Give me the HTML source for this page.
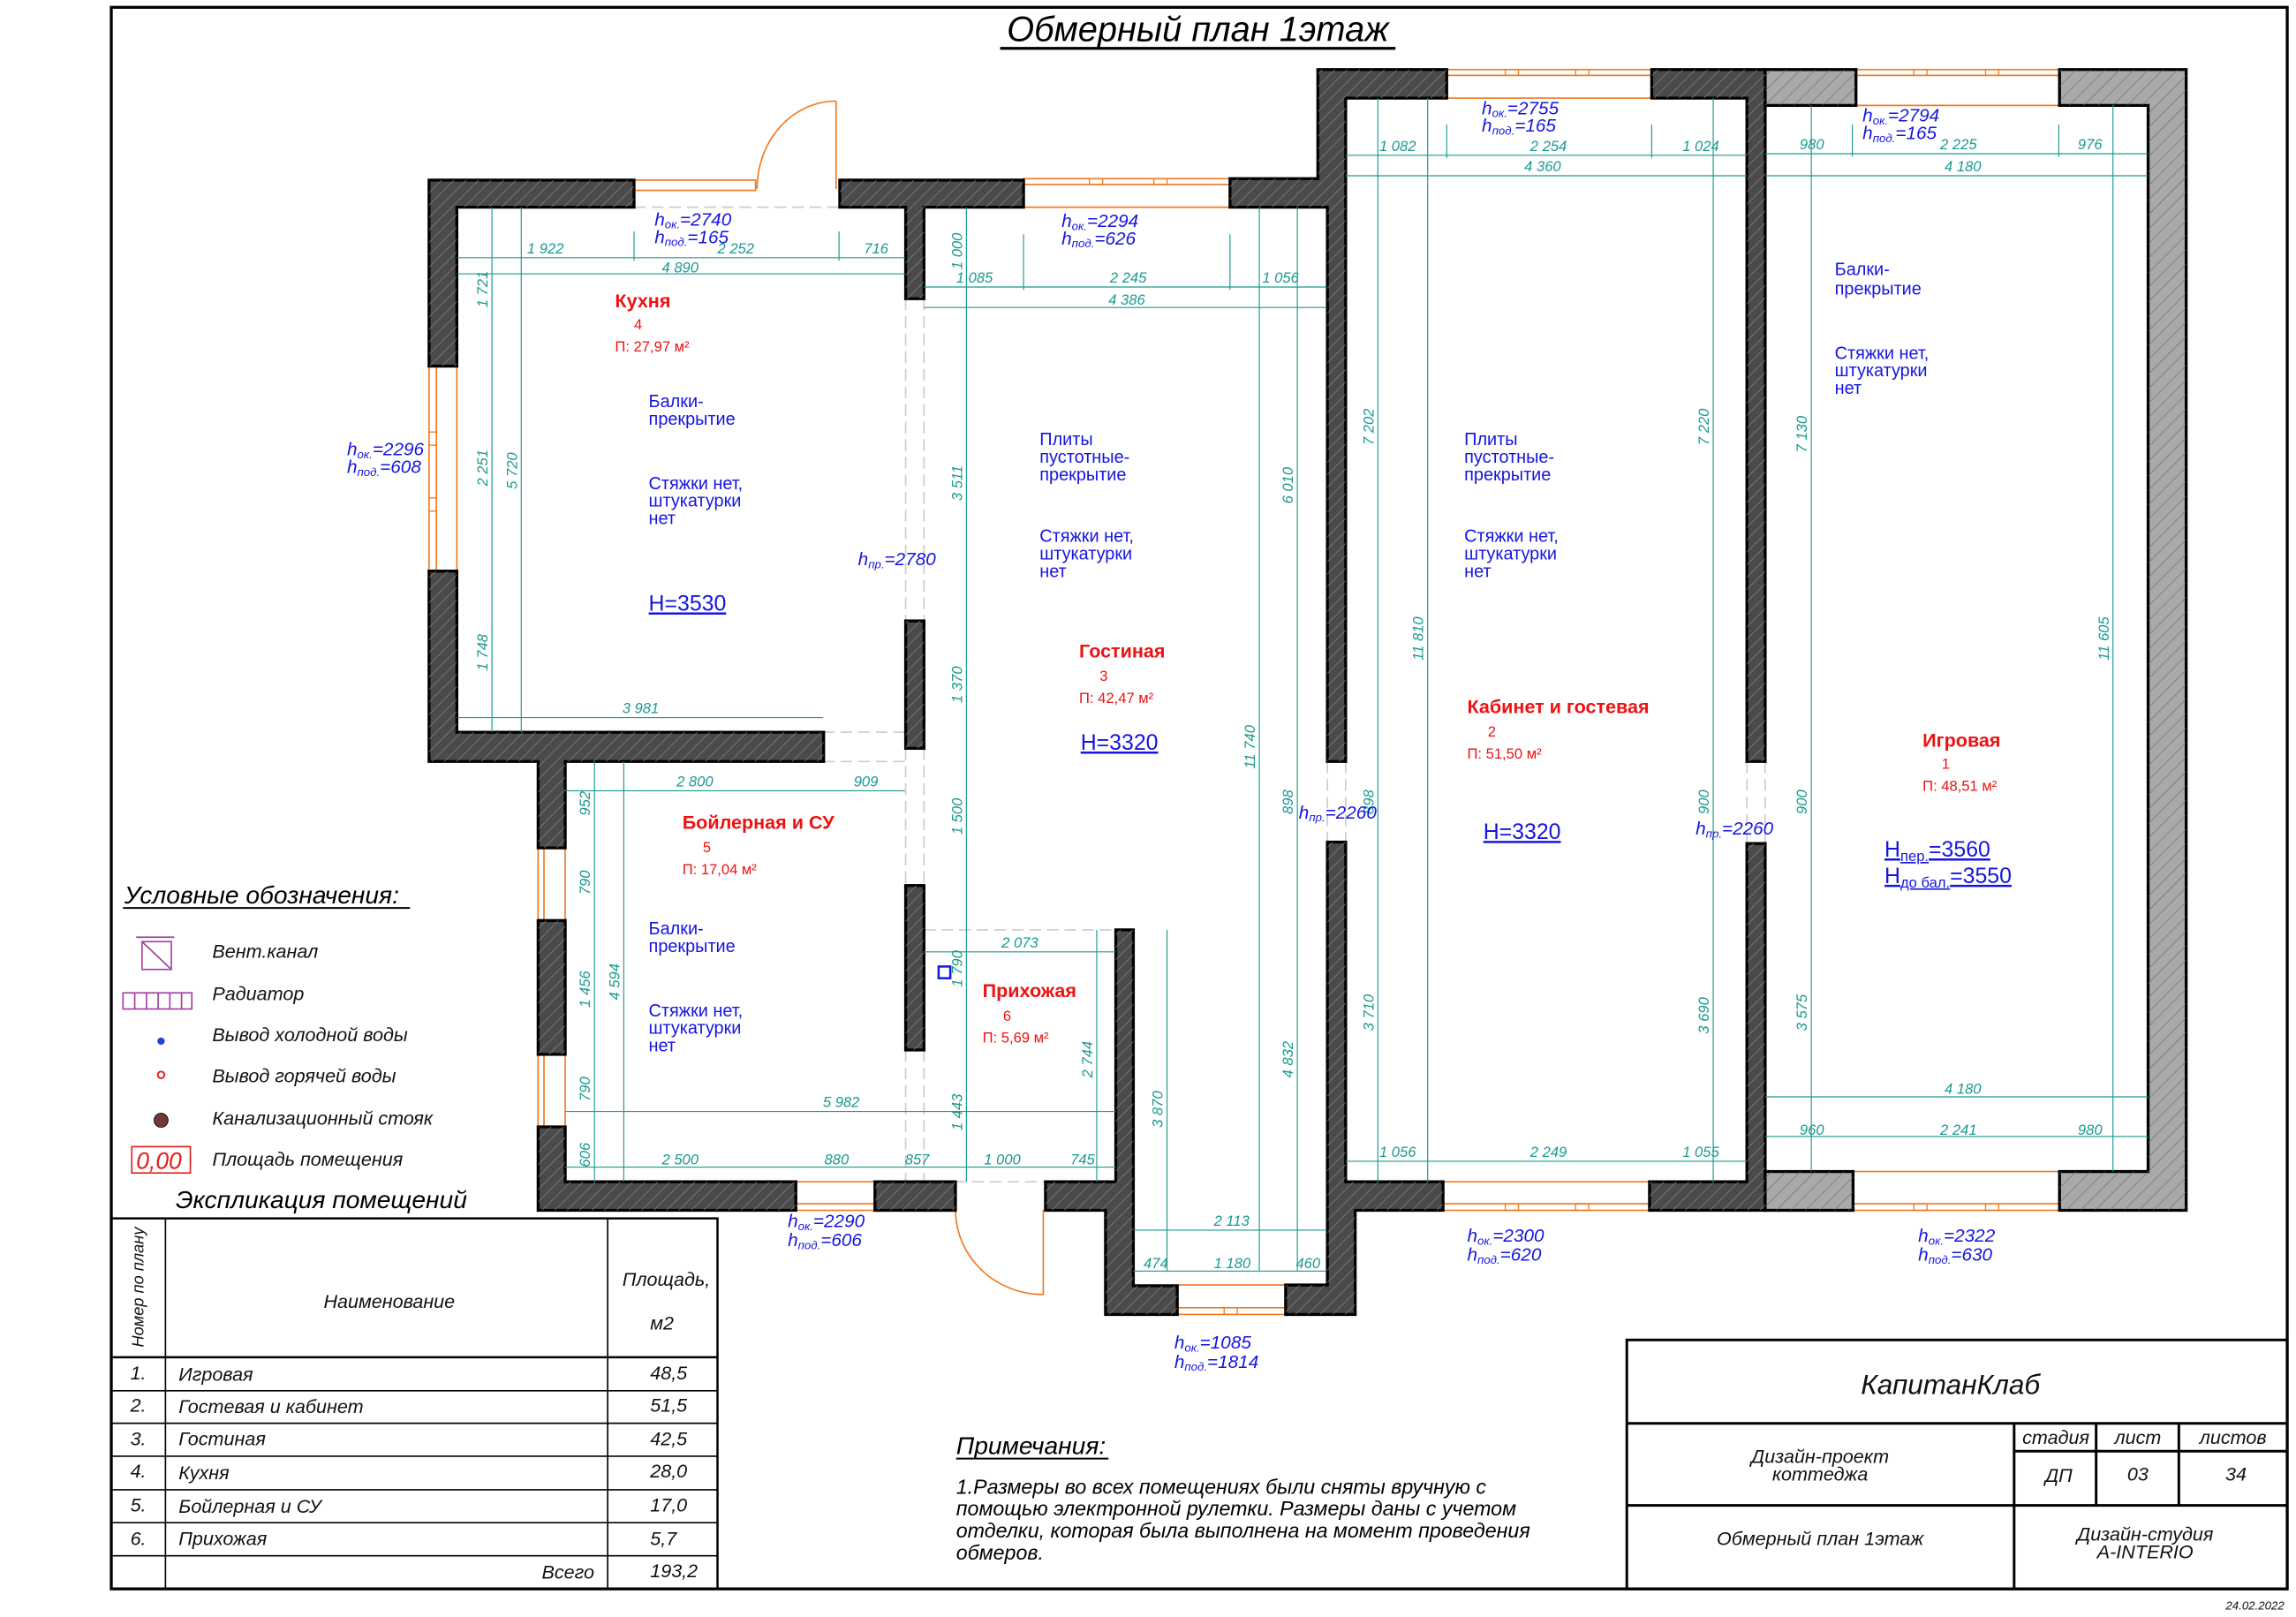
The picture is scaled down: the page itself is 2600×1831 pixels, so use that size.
<!DOCTYPE html>
<html><head><meta charset="utf-8"><style>
html,body{margin:0;padding:0;background:#fff;}
svg{display:block;}
text{font-family:"Liberation Sans",sans-serif;}
.d{fill:#1a9a8f;font-size:10px;font-style:italic;}
.b{fill:#1515e0;font-size:12px;}
.h{fill:#1515e0;font-size:12.5px;font-style:italic;}
.r{fill:#ee1111;font-size:13px;font-weight:bold;}
.rs{fill:#ee1111;font-size:10px;}
.k{fill:#111;font-size:13px;font-style:italic;}
.w{fill:#4a4a4a;stroke:#000;stroke-width:2;}
.g{fill:#a9a9a9;stroke:#000;stroke-width:2;}
.dl{stroke:#1a9a8f;stroke-width:0.7;fill:none;}
.win{stroke:#f07a20;stroke-width:1;fill:none;}
.ds{stroke:#ccc;stroke-width:1;stroke-dasharray:8 4;fill:none;}
</style></head><body>
<svg width="2600" height="1831" viewBox="0 0 1568 1104.2" preserveAspectRatio="none" xmlns="http://www.w3.org/2000/svg">
<defs>
<pattern id="ht" width="6" height="6" patternUnits="userSpaceOnUse" patternTransform="rotate(45)">
<line x1="0" y1="0" x2="0" y2="6" stroke="#8a8a8a" stroke-width="0.8"/></pattern>
<pattern id="ht2" width="7" height="7" patternUnits="userSpaceOnUse" patternTransform="rotate(45)">
<line x1="0" y1="0" x2="0" y2="7" stroke="#666" stroke-width="0.7"/></pattern>
</defs>
<rect x="0" y="0" width="1568" height="1104.2" fill="#fff"/>
<rect x="76" y="5" width="1486" height="1080" fill="none" stroke="#000" stroke-width="2"/>
<text x="818" y="28" text-anchor="middle" style="font-size:24px;font-style:italic;fill:#000">Обмерный план 1этаж</text>
<line x1="683" y1="33" x2="953" y2="33" stroke="#000" stroke-width="2"/>

<g class="ds">
<line x1="433" y1="141.5" x2="618" y2="141.5"/>
<line x1="618.5" y1="204" x2="618.5" y2="424"/><line x1="631" y1="204" x2="631" y2="424"/>
<line x1="618.5" y1="511" x2="618.5" y2="604"/><line x1="631" y1="511" x2="631" y2="604"/>
<line x1="618.5" y1="717" x2="618.5" y2="807"/><line x1="631" y1="717" x2="631" y2="807"/>
<line x1="562" y1="500" x2="618" y2="500"/><line x1="562" y1="520" x2="618" y2="520"/>
<line x1="631" y1="635" x2="762" y2="635"/>
<line x1="652" y1="807" x2="714" y2="807"/>
<line x1="906.5" y1="520" x2="906.5" y2="575"/><line x1="919" y1="520" x2="919" y2="575"/>
<line x1="1193" y1="520" x2="1193" y2="576"/><line x1="1205.5" y1="520" x2="1205.5" y2="576"/>
</g>

<g class="win">
<rect x="433" y="123" width="83" height="7"/>
<rect x="293" y="250" width="5" height="140"/><line x1="312" y1="250" x2="312" y2="390"/>
<rect x="699" y="122" width="141" height="4"/><line x1="699" y1="141.5" x2="840" y2="141.5"/>
<rect x="988" y="47.5" width="140" height="4"/><line x1="988" y1="67" x2="1128" y2="67"/>
<rect x="1267.5" y="47.5" width="139" height="4"/><line x1="1267.5" y1="72" x2="1406.5" y2="72"/>
<rect x="367.5" y="579" width="4" height="49.6"/><line x1="386" y1="579" x2="386" y2="628.6"/>
<rect x="367.5" y="720" width="4" height="49.5"/><line x1="386" y1="720" x2="386" y2="769.5"/>
<rect x="543.5" y="822" width="54" height="4.5"/><line x1="543.5" y1="807" x2="597.5" y2="807"/>
<rect x="804" y="893" width="74" height="4.6"/><line x1="804" y1="877.5" x2="878" y2="877.5"/>
<rect x="985.5" y="822" width="141" height="4.5"/><line x1="985.5" y1="807" x2="1126.5" y2="807"/>
<rect x="1265.5" y="822" width="141" height="4.5"/><line x1="1265.5" y1="800" x2="1406.5" y2="800"/>
<line x1="571" y1="69" x2="571" y2="129"/><path d="M517,129 A54,60 0 0 1 571,69"/>
<line x1="712.5" y1="826" x2="712.5" y2="884"/><path d="M652.5,826 A60,58 0 0 0 712.5,884"/>
</g>
<g fill="none" stroke="#f07a20" stroke-width="0.8">
<rect x="744" y="122" width="9" height="4"/><rect x="788" y="122" width="9" height="4"/>
<rect x="1028" y="47.5" width="9" height="4"/><rect x="1076" y="47.5" width="9" height="4"/>
<rect x="1307" y="47.5" width="9" height="4"/><rect x="1356" y="47.5" width="9" height="4"/>
<rect x="1028" y="822" width="9" height="4.5"/><rect x="1076" y="822" width="9" height="4.5"/>
<rect x="1307" y="822" width="9" height="4.5"/><rect x="1356" y="822" width="9" height="4.5"/>
<rect x="836" y="893" width="9" height="4.6"/>
<rect x="293" y="295" width="5" height="9"/><rect x="293" y="340" width="5" height="9"/>
</g>

<g>
<polygon class="w" points="293,123 433,123 433,141.5 312,141.5 312,250 293,250"/>
<polygon class="w" points="293,390 312,390 312,500 562.5,500 562.5,520 386,520 386,579 367.5,579 367.5,520 293,520"/>
<polygon class="w" points="573.5,123 699,123 699,141.5 631,141.5 631,204 618.5,204 618.5,141.5 573.5,141.5"/>
<polygon class="w" points="840,122 900,122 900,47.5 988,47.5 988,67 919,67 919,520 906.5,520 906.5,141.5 840,141.5"/>
<rect class="w" x="618.5" y="424" width="12.5" height="87"/>
<rect class="w" x="618.5" y="604.7" width="12.5" height="112.3"/>
<rect class="w" x="367.5" y="628.6" width="18.5" height="91.4"/>
<polygon class="w" points="367.5,769.5 386,769.5 386,807 543.5,807 543.5,826.5 367.5,826.5"/>
<rect class="w" x="597.5" y="807" width="55" height="19.5"/>
<polygon class="w" points="714,807 762,807 762,635 774,635 774,878 804,878 804,897.6 755,897.6 755,826.5 714,826.5"/>
<polygon class="w" points="906.5,575 919,575 919,807 985.5,807 985.5,826.5 925.5,826.5 925.5,897.6 878,897.6 878,877.5 906.5,877.5"/>
<polygon class="w" points="1128,47.5 1205.5,47.5 1205.5,520 1193,520 1193,67 1128,67"/>
<polygon class="w" points="1193,576 1205.5,576 1205.5,826.5 1126.5,826.5 1126.5,807 1193,807"/>
<rect class="g" x="1205.5" y="47.5" width="62" height="24.5"/>
<polygon class="g" points="1406.5,47.5 1493,47.5 1493,826.5 1406.5,826.5 1406.5,800 1467,800 1467,72 1406.5,72"/>
<rect class="g" x="1205.5" y="800" width="60" height="26.5"/>
</g>
<g fill="url(#ht)" stroke="none">
<polygon points="293,123 433,123 433,141.5 312,141.5 312,250 293,250"/>
<polygon points="293,390 312,390 312,500 562.5,500 562.5,520 386,520 386,579 367.5,579 367.5,520 293,520"/>
<polygon points="573.5,123 699,123 699,141.5 631,141.5 631,204 618.5,204 618.5,141.5 573.5,141.5"/>
<polygon points="840,122 900,122 900,47.5 988,47.5 988,67 919,67 919,520 906.5,520 906.5,141.5 840,141.5"/>
<rect x="618.5" y="424" width="12.5" height="87"/><rect x="618.5" y="604.7" width="12.5" height="112.3"/>
<rect x="367.5" y="628.6" width="18.5" height="91.4"/>
<polygon points="367.5,769.5 386,769.5 386,807 543.5,807 543.5,826.5 367.5,826.5"/>
<rect x="597.5" y="807" width="55" height="19.5"/>
<polygon points="714,807 762,807 762,635 774,635 774,878 804,878 804,897.6 755,897.6 755,826.5 714,826.5"/>
<polygon points="906.5,575 919,575 919,807 985.5,807 985.5,826.5 925.5,826.5 925.5,897.6 878,897.6 878,877.5 906.5,877.5"/>
<polygon points="1128,47.5 1205.5,47.5 1205.5,520 1193,520 1193,67 1128,67"/>
<polygon points="1193,576 1205.5,576 1205.5,826.5 1126.5,826.5 1126.5,807 1193,807"/>
</g>
<g fill="url(#ht2)" stroke="none">
<rect x="1205.5" y="47.5" width="62" height="24.5"/>
<polygon points="1406.5,47.5 1493,47.5 1493,826.5 1406.5,826.5 1406.5,800 1467,800 1467,72 1406.5,72"/>
<rect x="1205.5" y="800" width="60" height="26.5"/>
</g>

<g class="dl">
<line x1="312" y1="176" x2="618" y2="176"/><line x1="312" y1="187" x2="618" y2="187"/>
<line x1="433" y1="158" x2="433" y2="178"/><line x1="573" y1="158" x2="573" y2="178"/>
<line x1="336" y1="141.5" x2="336" y2="500"/><line x1="356" y1="141.5" x2="356" y2="500"/>
<line x1="312" y1="490" x2="562" y2="490"/>
<line x1="660" y1="141.5" x2="660" y2="807"/>
<line x1="631" y1="196" x2="906" y2="196"/><line x1="631" y1="210" x2="906" y2="210"/>
<line x1="699" y1="160" x2="699" y2="198"/><line x1="840" y1="160" x2="840" y2="198"/>
<line x1="860" y1="141.5" x2="860" y2="868"/><line x1="886" y1="141.5" x2="886" y2="868"/>
<line x1="797" y1="635" x2="797" y2="868"/>
<line x1="386" y1="540" x2="618" y2="540"/>
<line x1="406" y1="520" x2="406" y2="807"/><line x1="426" y1="520" x2="426" y2="807"/>
<line x1="386" y1="759" x2="762" y2="759"/><line x1="386" y1="797" x2="762" y2="797"/>
<line x1="631" y1="650" x2="762" y2="650"/><line x1="749" y1="635" x2="749" y2="807"/>
<line x1="774" y1="840" x2="906" y2="840"/><line x1="774" y1="868" x2="906" y2="868"/>
<line x1="919" y1="106" x2="1193" y2="106"/><line x1="919" y1="120" x2="1193" y2="120"/>
<line x1="988" y1="85" x2="988" y2="108"/><line x1="1128" y1="85" x2="1128" y2="108"/>
<line x1="941" y1="67" x2="941" y2="807"/><line x1="975" y1="67" x2="975" y2="807"/><line x1="1170" y1="67" x2="1170" y2="807"/>
<line x1="919" y1="793" x2="1193" y2="793"/>
<line x1="1205.5" y1="105" x2="1467" y2="105"/><line x1="1205.5" y1="120" x2="1467" y2="120"/>
<line x1="1265" y1="85" x2="1265" y2="107"/><line x1="1406" y1="85" x2="1406" y2="107"/>
<line x1="1237" y1="72" x2="1237" y2="800"/><line x1="1443" y1="72" x2="1443" y2="800"/>
<line x1="1205.5" y1="749" x2="1467" y2="749"/><line x1="1205.5" y1="776" x2="1467" y2="776"/>
</g>

<g class="d">
<text x="360" y="173">1 922</text><text x="490" y="173">2 252</text><text x="590" y="173">716</text>
<text x="452" y="186">4 890</text><text x="425" y="487">3 981</text>
<text x="653" y="193">1 085</text><text x="758" y="193">2 245</text><text x="862" y="193">1 056</text>
<text x="757" y="208">4 386</text>
<text x="462" y="537">2 800</text><text x="583" y="537">909</text>
<text x="562" y="756">5 982</text>
<text x="452" y="795">2 500</text><text x="563" y="795">880</text><text x="618" y="795">857</text><text x="672" y="795">1 000</text><text x="731" y="795">745</text>
<text x="684" y="647">2 073</text>
<text x="829" y="837">2 113</text><text x="781" y="866">474</text><text x="829" y="866">1 180</text><text x="885" y="866">460</text>
<text x="942" y="103">1 082</text><text x="1045" y="103">2 254</text><text x="1149" y="103">1 024</text>
<text x="1041" y="117">4 360</text>
<text x="942" y="790">1 056</text><text x="1045" y="790">2 249</text><text x="1149" y="790">1 055</text>
<text x="1229" y="102">980</text><text x="1325" y="102">2 225</text><text x="1419" y="102">976</text>
<text x="1328" y="117">4 180</text><text x="1328" y="747">4 180</text>
<text x="1229" y="775">960</text><text x="1325" y="775">2 241</text><text x="1419" y="775">980</text>
</g>
<g class="d">
<text transform="translate(333,210) rotate(-90)">1 721</text>
<text transform="translate(333,332) rotate(-90)">2 251</text>
<text transform="translate(333,458) rotate(-90)">1 748</text>
<text transform="translate(353,334) rotate(-90)">5 720</text>
<text transform="translate(657,184) rotate(-90)">1 000</text>
<text transform="translate(657,342) rotate(-90)">3 511</text>
<text transform="translate(657,480) rotate(-90)">1 370</text>
<text transform="translate(657,570) rotate(-90)">1 500</text>
<text transform="translate(657,674) rotate(-90)">1 790</text>
<text transform="translate(657,772) rotate(-90)">1 443</text>
<text transform="translate(883,344) rotate(-90)">6 010</text>
<text transform="translate(857,525) rotate(-90)">11 740</text>
<text transform="translate(883,556) rotate(-90)">898</text>
<text transform="translate(883,736) rotate(-90)">4 832</text>
<text transform="translate(794,770) rotate(-90)">3 870</text>
<text transform="translate(746,736) rotate(-90)">2 744</text>
<text transform="translate(403,557) rotate(-90)">952</text>
<text transform="translate(403,611) rotate(-90)">790</text>
<text transform="translate(403,688) rotate(-90)">1 456</text>
<text transform="translate(403,752) rotate(-90)">790</text>
<text transform="translate(403,797) rotate(-90)">606</text>
<text transform="translate(423,683) rotate(-90)">4 594</text>
<text transform="translate(938,304) rotate(-90)">7 202</text>
<text transform="translate(938,556) rotate(-90)">898</text>
<text transform="translate(938,704) rotate(-90)">3 710</text>
<text transform="translate(972,451) rotate(-90)">11 810</text>
<text transform="translate(1167,304) rotate(-90)">7 220</text>
<text transform="translate(1167,556) rotate(-90)">900</text>
<text transform="translate(1167,706) rotate(-90)">3 690</text>
<text transform="translate(1234,309) rotate(-90)">7 130</text>
<text transform="translate(1234,556) rotate(-90)">900</text>
<text transform="translate(1234,704) rotate(-90)">3 575</text>
<text transform="translate(1440,451) rotate(-90)">11 605</text>
</g>

<g class="h">
<text x="447" y="154">h<tspan font-size="8" dy="2">ок.</tspan><tspan dy="-2">=2740</tspan></text>
<text x="447" y="166">h<tspan font-size="8" dy="2">под.</tspan><tspan dy="-2">=165</tspan></text>
<text x="725" y="155">h<tspan font-size="8" dy="2">ок.</tspan><tspan dy="-2">=2294</tspan></text>
<text x="725" y="167">h<tspan font-size="8" dy="2">под.</tspan><tspan dy="-2">=626</tspan></text>
<text x="237" y="311">h<tspan font-size="8" dy="2">ок.</tspan><tspan dy="-2">=2296</tspan></text>
<text x="237" y="323">h<tspan font-size="8" dy="2">под.</tspan><tspan dy="-2">=608</tspan></text>
<text x="586" y="386">h<tspan font-size="8" dy="2">пр.</tspan><tspan dy="-2">=2780</tspan></text>
<text x="887" y="559">h<tspan font-size="8" dy="2">пр.</tspan><tspan dy="-2">=2260</tspan></text>
<text x="1158" y="570">h<tspan font-size="8" dy="2">пр.</tspan><tspan dy="-2">=2260</tspan></text>
<text x="1012" y="78">h<tspan font-size="8" dy="2">ок.</tspan><tspan dy="-2">=2755</tspan></text>
<text x="1012" y="90">h<tspan font-size="8" dy="2">под.</tspan><tspan dy="-2">=165</tspan></text>
<text x="1272" y="83">h<tspan font-size="8" dy="2">ок.</tspan><tspan dy="-2">=2794</tspan></text>
<text x="1272" y="95">h<tspan font-size="8" dy="2">под.</tspan><tspan dy="-2">=165</tspan></text>
<text x="538" y="838">h<tspan font-size="8" dy="2">ок.</tspan><tspan dy="-2">=2290</tspan></text>
<text x="538" y="851">h<tspan font-size="8" dy="2">под.</tspan><tspan dy="-2">=606</tspan></text>
<text x="802" y="921">h<tspan font-size="8" dy="2">ок.</tspan><tspan dy="-2">=1085</tspan></text>
<text x="802" y="934">h<tspan font-size="8" dy="2">под.</tspan><tspan dy="-2">=1814</tspan></text>
<text x="1002" y="848">h<tspan font-size="8" dy="2">ок.</tspan><tspan dy="-2">=2300</tspan></text>
<text x="1002" y="861">h<tspan font-size="8" dy="2">под.</tspan><tspan dy="-2">=620</tspan></text>
<text x="1310" y="848">h<tspan font-size="8" dy="2">ок.</tspan><tspan dy="-2">=2322</tspan></text>
<text x="1310" y="861">h<tspan font-size="8" dy="2">под.</tspan><tspan dy="-2">=630</tspan></text>
</g>

<g class="b">
<text x="443" y="278">Балки-</text><text x="443" y="290">прекрытие</text>
<text x="443" y="334">Стяжки нет,</text><text x="443" y="346">штукатурки</text><text x="443" y="358">нет</text>
<text x="443" y="638">Балки-</text><text x="443" y="650">прекрытие</text>
<text x="443" y="694">Стяжки нет,</text><text x="443" y="706">штукатурки</text><text x="443" y="718">нет</text>
<text x="710" y="304">Плиты</text><text x="710" y="316">пустотные-</text><text x="710" y="328">прекрытие</text>
<text x="710" y="370">Стяжки нет,</text><text x="710" y="382">штукатурки</text><text x="710" y="394">нет</text>
<text x="1000" y="304">Плиты</text><text x="1000" y="316">пустотные-</text><text x="1000" y="328">прекрытие</text>
<text x="1000" y="370">Стяжки нет,</text><text x="1000" y="382">штукатурки</text><text x="1000" y="394">нет</text>
<text x="1253" y="188">Балки-</text><text x="1253" y="201">прекрытие</text>
<text x="1253" y="245">Стяжки нет,</text><text x="1253" y="257">штукатурки</text><text x="1253" y="269">нет</text>
</g>
<g fill="#1515e0" font-size="15">
<text x="443" y="417" text-decoration="underline">H=3530</text>
<text x="738" y="512" text-decoration="underline">H=3320</text>
<text x="1013" y="573" text-decoration="underline">H=3320</text>
<text x="1287" y="585" text-decoration="underline">H<tspan font-size="10" dy="3">пер.</tspan><tspan dy="-3">=3560</tspan></text>
<text x="1287" y="603" text-decoration="underline">H<tspan font-size="10" dy="3">до бал.</tspan><tspan dy="-3">=3550</tspan></text>
</g>
<rect x="641" y="660" width="8" height="8" fill="none" stroke="#1515e0" stroke-width="1.5"/>

<g>
<text class="r" x="420" y="210">Кухня</text><text class="rs" x="433" y="225">4</text><text class="rs" x="420" y="240">П: 27,97 м²</text>
<text class="r" x="737" y="449">Гостиная</text><text class="rs" x="751" y="465">3</text><text class="rs" x="737" y="480">П: 42,47 м²</text>
<text class="r" x="466" y="566">Бойлерная и СУ</text><text class="rs" x="480" y="582">5</text><text class="rs" x="466" y="597">П: 17,04 м²</text>
<text class="r" x="671" y="681">Прихожая</text><text class="rs" x="685" y="697">6</text><text class="rs" x="671" y="712">П: 5,69 м²</text>
<text class="r" x="1002" y="487">Кабинет и гостевая</text><text class="rs" x="1016" y="503">2</text><text class="rs" x="1002" y="518">П: 51,50 м²</text>
<text class="r" x="1313" y="510">Игровая</text><text class="rs" x="1326" y="525">1</text><text class="rs" x="1313" y="540">П: 48,51 м²</text>
</g>

<text x="85" y="617" style="font-size:17px;font-style:italic;fill:#000">Условные обозначения:</text>
<line x1="84" y1="620" x2="280" y2="620" stroke="#000" stroke-width="1.2"/>
<g stroke="#a040a0" fill="none" stroke-width="1">
<line x1="93" y1="640" x2="119" y2="640"/><rect x="97" y="643" width="20" height="19"/><line x1="97" y1="643" x2="117" y2="662"/>
<rect x="84" y="678" width="47" height="11"/>
<line x1="92" y1="678" x2="92" y2="689"/><line x1="100" y1="678" x2="100" y2="689"/><line x1="108" y1="678" x2="108" y2="689"/><line x1="116" y1="678" x2="116" y2="689"/><line x1="124" y1="678" x2="124" y2="689"/>
</g>
<circle cx="110" cy="711" r="2.5" fill="#2040e0"/>
<circle cx="110" cy="734" r="2.3" fill="none" stroke="#e02020" stroke-width="1.2"/>
<circle cx="110" cy="765" r="4.8" fill="#703838" stroke="#000" stroke-width="0.5"/>
<rect x="90" y="783" width="40" height="18" fill="none" stroke="#e02020" stroke-width="1"/>
<text x="93" y="798" style="font-size:16px;font-style:italic;fill:#e02020">0,00</text>
<g class="k">
<text x="145" y="654">Вент.канал</text>
<text x="145" y="683">Радиатор</text>
<text x="145" y="711">Вывод холодной воды</text>
<text x="145" y="739">Вывод горячей воды</text>
<text x="145" y="768">Канализационный стояк</text>
<text x="145" y="796">Площадь помещения</text>
</g>
<text x="120" y="825" style="font-size:17px;font-style:italic;fill:#000">Экспликация помещений</text>

<g stroke="#000" fill="none">
<rect x="76" y="832" width="414" height="253" stroke-width="1.5"/>
<line x1="113" y1="832" x2="113" y2="1085"/><line x1="415" y1="832" x2="415" y2="1085"/>
<line x1="76" y1="926.8" x2="490" y2="926.8" stroke-width="1.5"/>
<line x1="76" y1="949.7" x2="490" y2="949.7"/><line x1="76" y1="971.9" x2="490" y2="971.9"/>
<line x1="76" y1="994.4" x2="490" y2="994.4"/><line x1="76" y1="1017.3" x2="490" y2="1017.3"/>
<line x1="76" y1="1039.8" x2="490" y2="1039.8"/><line x1="76" y1="1062.4" x2="490" y2="1062.4"/>
</g>
<g class="k">
<text transform="translate(98,920) rotate(-90)" style="font-size:11px">Номер по плану</text>
<text x="221" y="893">Наименование</text>
<text x="425" y="878">Площадь,</text><text x="444" y="908">м2</text>
<text x="89" y="942">1.</text><text x="122" y="943">Игровая</text><text x="444" y="942">48,5</text>
<text x="89" y="964">2.</text><text x="122" y="965">Гостевая и кабинет</text><text x="444" y="964">51,5</text>
<text x="89" y="987">3.</text><text x="122" y="987">Гостиная</text><text x="444" y="987">42,5</text>
<text x="89" y="1009">4.</text><text x="122" y="1010">Кухня</text><text x="444" y="1009">28,0</text>
<text x="89" y="1032">5.</text><text x="122" y="1033">Бойлерная и СУ</text><text x="444" y="1032">17,0</text>
<text x="89" y="1055">6.</text><text x="122" y="1055">Прихожая</text><text x="444" y="1055">5,7</text>
<text x="370" y="1078">Всего</text><text x="444" y="1077">193,2</text>
</g>

<text x="653" y="993" style="font-size:17px;font-style:italic;fill:#000">Примечания:</text>
<line x1="653" y1="996" x2="757" y2="996" stroke="#000" stroke-width="1.2"/>
<g style="font-size:14px;font-style:italic;fill:#000">
<text x="653" y="1020">1.Размеры во всех помещениях были сняты вручную с</text>
<text x="653" y="1035">помощью электронной рулетки. Размеры даны с учетом</text>
<text x="653" y="1050">отделки, которая была выполнена на момент проведения</text>
<text x="653" y="1065">обмеров.</text>
</g>

<g stroke="#000" fill="none" stroke-width="1.8">
<rect x="1111" y="915" width="451" height="170"/>
<line x1="1111" y1="972" x2="1562" y2="972"/><line x1="1111" y1="1028" x2="1562" y2="1028"/>
<line x1="1375.5" y1="972" x2="1375.5" y2="1085"/>
<line x1="1431.5" y1="972" x2="1431.5" y2="1028"/><line x1="1488" y1="972" x2="1488" y2="1028"/>
<line x1="1375.5" y1="991" x2="1562" y2="991"/>
</g>
<g class="k" text-anchor="middle">
<text x="1332" y="952" style="font-size:19px">КапитанКлаб</text>
<text x="1243" y="999">Дизайн-проект</text><text x="1243" y="1011">коттеджа</text>
<text x="1404" y="986">стадия</text><text x="1460" y="986">лист</text><text x="1525" y="986">листов</text>
<text x="1406" y="1012">ДП</text><text x="1460" y="1011">03</text><text x="1527" y="1011">34</text>
<text x="1243" y="1055">Обмерный план 1этаж</text>
<text x="1465" y="1052">Дизайн-студия</text><text x="1465" y="1064">A-INTERIO</text>
<text x="1540" y="1099" style="font-size:8px">24.02.2022</text>
</g>
</svg>
</body></html>
